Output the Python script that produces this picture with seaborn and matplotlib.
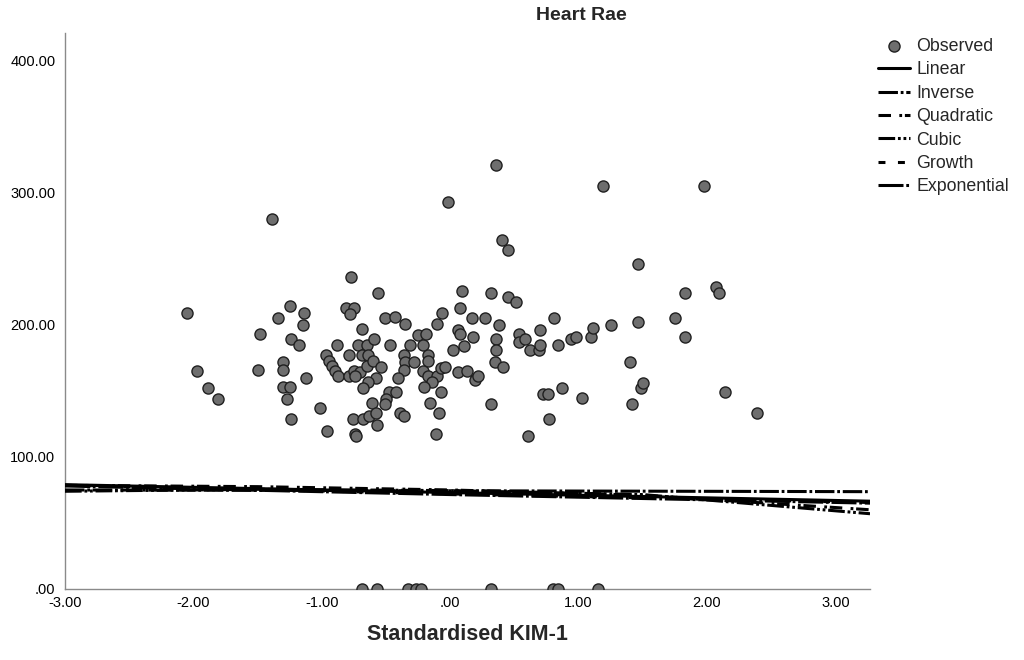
import numpy as np
import pandas as pd
import matplotlib
matplotlib.use('Agg')
import matplotlib.pyplot as plt
from matplotlib.ticker import FuncFormatter
import seaborn as sns

kim1 = [
    -2.05, -1.97, -1.89, -1.81, -1.48, -1.50, -1.39, -1.34, -1.25, -1.14,
    -1.15, -1.30, -1.30, -1.24, -1.18, -1.30, -1.25, -1.27, -1.24, -1.12,
    -1.01, -0.96, -0.77, -0.56, -0.81, -0.75, -0.78, -0.51, -0.43, -0.35,
    -0.69, -0.88, -0.72, -0.65, -0.59, -0.47, -0.31, -0.97, -0.94, -0.92,
    -0.90, -0.87, -0.79, -0.79, -0.75, -0.70, -0.74, -0.69, -0.64, -0.65,
    -0.60, -0.54, -0.58, -0.64, -0.68, -0.36, -0.35, -0.36, -0.41, -0.28,
    -0.48, -0.42, -0.50, -0.51, -0.61, -0.76, -0.68, -0.63, -0.58, -0.57,
    -0.74, -0.73, -0.39, -0.36, -0.25, -0.21, -0.19, -0.17, -0.17, -0.21,
    -0.17, -0.10, -0.14, -0.20, -0.07, -0.16, -0.09, -0.11, -0.07, -0.04,
    0.02, 0.11, 0.06, 0.08, 0.18, 0.06, 0.13, 0.19, 0.22, -0.06,
    -0.10, 0.08, 0.09, -0.02, 0.17, 0.27, 0.38, 0.32, 0.45, 0.51,
    0.36, 0.40, 0.45, 0.36, 0.36, 0.35, 0.41, 0.32, 0.54, 0.54,
    0.58, 0.62, 0.69, 0.70, 0.70, 0.81, 0.84, 0.94, 0.98, 1.10,
    1.11, 1.25, 0.72, 0.76, 0.87, 1.03, 0.77, 0.61, 1.19, 1.46,
    1.46, 1.40, 1.49, 1.50, 1.42, 1.75, 1.83, 1.83, 1.98, 2.07,
    2.09, 2.14, 2.39,
    -0.69, -0.57, -0.33, -0.27, -0.23, 0.32, 0.80, 0.84, 1.15,
]
heart_rate = [
    209, 165, 152, 144, 193, 166, 280, 205, 214, 209,
    200, 172, 166, 189, 185, 153, 153, 144, 129, 160,
    137, 120, 236, 224, 213, 213, 208, 205, 206, 201,
    197, 185, 185, 185, 189, 185, 185, 177, 173, 169,
    165, 161, 177, 161, 165, 164, 161, 177, 177, 169,
    173, 168, 160, 157, 152, 177, 172, 166, 160, 172,
    149, 149, 144, 140, 141, 129, 129, 131, 133, 124,
    117, 116, 133, 131, 192, 185, 193, 177, 173, 165,
    161, 161, 157, 153, 149, 141, 133, 117, 167, 168,
    181, 184, 196, 193, 191, 164, 165, 158, 161, 209,
    201, 213, 226, 293, 205, 205, 200, 224, 221, 217,
    321, 264, 257, 189, 181, 172, 168, 140, 193, 187,
    189, 181, 181, 185, 196, 205, 185, 189, 191, 191,
    198, 200, 148, 148, 152, 145, 129, 116, 305, 246,
    202, 172, 152, 156, 140, 205, 224, 191, 305, 229,
    224, 149, 133,
    0, 0, 0, 0, 0, 0, 0, 0, 0,
]

# Curve estimation fits
linear_x = [-3.0, 3.27]
linear_y = [79.0, 66.5]
inverse_x = [-3.0, 3.27]
inverse_y = [75.0, 73.7]
quadratic_x = [-3.0, -1.5, 0.0, 1.5, 3.27]
quadratic_y = [78.5, 77.5, 75.0, 71.0, 60.0]
cubic_x = [-3.0, -1.5, 0.0, 1.5, 3.27]
cubic_y = [74.0, 75.5, 74.5, 71.5, 57.0]
growth_x = [-3.0, 0.0, 3.27]
growth_y = [78.5, 72.0, 65.5]
exponential_x = [-3.0, 0.0, 3.27]
exponential_y = [78.0, 71.5, 65.0]

x_ticks = [-3, -2, -1, 0, 1, 2, 3]
y_ticks = [0, 100, 200, 300, 400]


def spss_fmt(v, pos=None):
    s = f"{v:.2f}"
    if s.startswith("0."):
        s = s[1:]
    return s


sns.set_style('white')
plt.rcParams['font.family'] = ['Liberation Sans', 'DejaVu Sans']
plt.rcParams['lines.scale_dashes'] = False

fig = plt.figure(figsize=(10.24, 6.6), dpi=100)
ax = fig.add_axes([65 / 1024, 1 - 589 / 660, (870 - 65) / 1024, (589 - 33) / 660])

obs = pd.DataFrame({'kim1': kim1, 'hr': heart_rate})
sns.scatterplot(data=obs, x='kim1', y='hr', ax=ax, s=64, color='#6e6e6e',
                edgecolor='#202020', linewidth=1.0, label='Observed', zorder=3)

fits = [
    ('Linear', linear_x, linear_y, None),
    ('Inverse', inverse_x, inverse_y, (14, 2, 2, 2)),
    ('Quadratic', quadratic_x, quadratic_y, (9, 6, 2, 2)),
    ('Cubic', cubic_x, cubic_y, (12, 2, 2, 2, 2, 2)),
    ('Growth', growth_x, growth_y, (5, 9)),
    ('Exponential', exponential_x, exponential_y, (18, 2, 2, 2)),
]
for name, fx, fy, dash in fits:
    sns.lineplot(x=fx, y=fy, ax=ax, color='black', linewidth=2.2, label=name,
                 sort=True, zorder=4)
    line = ax.lines[-1]
    if dash is not None:
        line.set_dashes(dash)

ax.set_xlim(-3.0, 3.27)
ax.set_ylim(0, 421)
ax.set_xticks(x_ticks)
ax.set_yticks(y_ticks)
ax.xaxis.set_major_formatter(FuncFormatter(spss_fmt))
ax.yaxis.set_major_formatter(FuncFormatter(spss_fmt))
ax.tick_params(axis='both', length=0, labelsize=10.5, colors='black')
ax.tick_params(axis='y', pad=7)
ax.tick_params(axis='x', pad=5)

for side in ['top', 'right']:
    ax.spines[side].set_visible(False)
for side in ['left', 'bottom']:
    ax.spines[side].set_color('#8a8a8a')
    ax.spines[side].set_linewidth(1.0)

ax.set_xlabel('Standardised KIM-1', fontsize=15.5, fontweight='bold', labelpad=10)
ax.set_ylabel('')
fig.text(581 / 1024, 1 - 16 / 660, 'Heart Rae', ha='center', va='center',
         fontsize=14, fontweight='bold')

ax.legend(loc='upper left', bbox_to_anchor=(878 / 1024, 1 - 38 / 660),
          bbox_transform=fig.transFigure, frameon=False, fontsize=12.8,
          handlelength=1.8, handletextpad=0.35, labelspacing=0.36,
          borderpad=0, borderaxespad=0)

fig.savefig('out.png', dpi=100)
